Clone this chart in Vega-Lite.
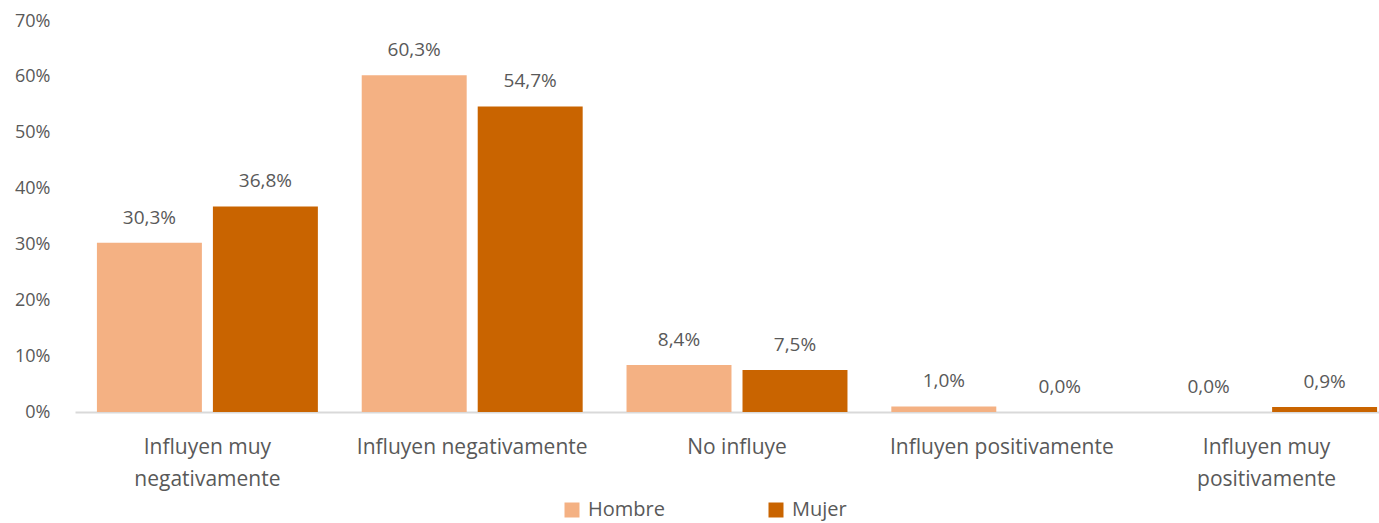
{
  "$schema": "https://vega.github.io/schema/vega-lite/v6.json",
  "width": 1324,
  "height": 391,
  "autosize": "none",
  "padding": {"left": 75, "top": 21, "right": 0, "bottom": 111},
  "config": {
    "view": {"stroke": null},
    "font": "Open Sans",
    "locale": {"number": {"decimal": ",", "thousands": ".", "grouping": [3], "currency": ["", " €"]}}
  },
  "data": {
    "values": [
      {"categoria": "Influyen muy negativamente", "sexo": "Hombre", "valor": 0.303},
      {"categoria": "Influyen muy negativamente", "sexo": "Mujer", "valor": 0.368},
      {"categoria": "Influyen negativamente", "sexo": "Hombre", "valor": 0.603},
      {"categoria": "Influyen negativamente", "sexo": "Mujer", "valor": 0.547},
      {"categoria": "No influye", "sexo": "Hombre", "valor": 0.084},
      {"categoria": "No influye", "sexo": "Mujer", "valor": 0.075},
      {"categoria": "Influyen positivamente", "sexo": "Hombre", "valor": 0.010},
      {"categoria": "Influyen positivamente", "sexo": "Mujer", "valor": 0.000},
      {"categoria": "Influyen muy positivamente", "sexo": "Hombre", "valor": 0.000},
      {"categoria": "Influyen muy positivamente", "sexo": "Mujer", "valor": 0.009}
    ]
  },
  "encoding": {
    "x": {
      "field": "categoria",
      "type": "nominal",
      "sort": null,
      "scale": {"paddingInner": 0, "paddingOuter": 0},
      "axis": {
        "title": null,
        "labelAngle": 0,
        "ticks": false,
        "domainColor": "#D9D9D9",
        "domainWidth": 2,
        "labelFontSize": 21,
        "labelColor": "#595959",
        "labelPadding": 24,
        "labelLineHeight": 32,
        "labelBaseline": "top",
        "labelLimit": 400,
        "labelOverlap": false,
        "labelExpr": "datum.value == 'Influyen muy negativamente' ? ['Influyen muy', 'negativamente'] : datum.value == 'Influyen muy positivamente' ? ['Influyen muy', 'positivamente'] : datum.value"
      }
    },
    "xOffset": {
      "field": "sexo",
      "type": "nominal",
      "scale": {"paddingInner": 0.095, "paddingOuter": 0.189}
    },
    "y": {
      "field": "valor",
      "type": "quantitative",
      "scale": {"domain": [0, 0.7]},
      "axis": {
        "title": null,
        "format": ".0%",
        "values": [0, 0.1, 0.2, 0.3, 0.4, 0.5, 0.6, 0.7],
        "grid": false,
        "ticks": false,
        "domain": false,
        "labelOverlap": false,
        "labelFlush": false,
        "labelFontSize": 18,
        "labelColor": "#595959",
        "labelPadding": 25
      }
    }
  },
  "layer": [
    {
      "mark": {"type": "bar"},
      "encoding": {
        "color": {
          "field": "sexo",
          "type": "nominal",
          "scale": {"domain": ["Hombre", "Mujer"], "range": ["#F4B183", "#C96400"]},
          "legend": {
            "title": null,
            "orient": "none",
            "direction": "horizontal",
            "legendX": 487,
            "legendY": 479,
            "symbolType": "square",
            "symbolSize": 225,
            "symbolStrokeWidth": 0,
            "labelFontSize": 20,
            "labelColor": "#595959",
            "labelOffset": 6,
            "columnPadding": 101
          }
        }
      }
    },
    {
      "mark": {"type": "text", "baseline": "bottom", "dy": -15, "fontSize": 19, "color": "#595959"},
      "encoding": {
        "text": {"field": "valor", "type": "quantitative", "format": ".1%"}
      }
    }
  ]
}
